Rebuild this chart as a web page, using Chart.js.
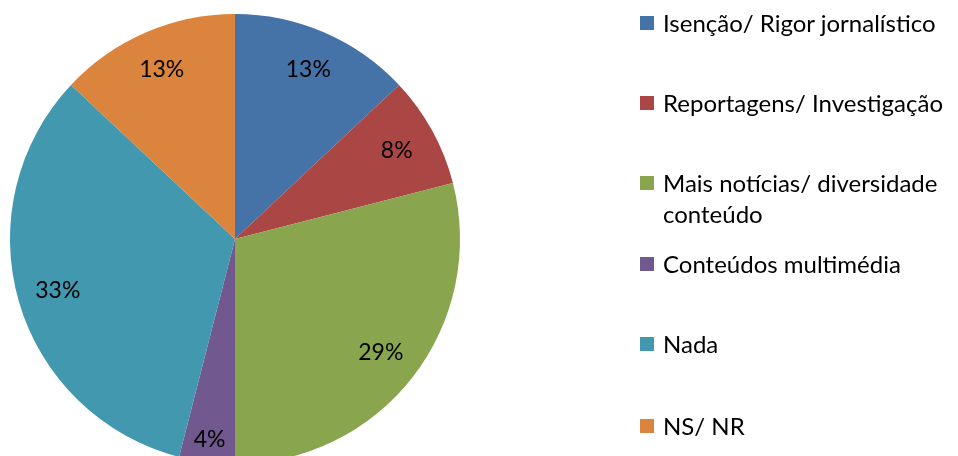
<!DOCTYPE html>
<html>
<head>
<meta charset="utf-8">
<script src="https://cdn.jsdelivr.net/npm/chart.js@4/dist/chart.umd.min.js"></script>
<style>
  html, body { margin: 0; padding: 0; background: #fff; overflow: hidden; }
  #wrap { position: relative; width: 958px; height: 470px; }
  #legend { position: absolute; left: 640px; top: 0; font-family: Lato, sans-serif; font-size: 24px; color: #000; }
  .item { position: absolute; left: 0; width: 318px; }
  .box { position: absolute; left: 0; width: 14px; height: 14px; }
  .txt { position: absolute; left: 23px; line-height: 31px; white-space: nowrap; }
</style>
</head>
<body>
<div id="wrap">
  <canvas id="myChart" width="958" height="470"></canvas>
  <div id="legend"></div>
</div>
<script>
'use strict';
let labels = ['Isenção/ Rigor jornalístico', 'Reportagens/ Investigação', ['Mais notícias/ diversidade', 'conteúdo'], 'Conteúdos multimédia', 'Nada', 'NS/ NR'];
let values = [13, 8, 29, 4, 33, 13];
let colors = ['#4572A7', '#AA4643', '#89A54E', '#71588F', '#4198AF', '#DB843D'];
let legendY = [22, 102, 182, 263, 343, 425];

let pctLabels = {
  id: 'pctLabels',
  afterDatasetsDraw(chart) {
    let ctx = chart.ctx;
    let meta = chart.getDatasetMeta(0);
    ctx.save();
    ctx.font = '23px Lato, sans-serif';
    ctx.fillStyle = '#000';
    ctx.textAlign = 'center';
    ctx.textBaseline = 'middle';
    meta.data.forEach(function (arc, i) {
      let mid = (arc.startAngle + arc.endAngle) / 2;
      let r = arc.outerRadius * 0.82;
      if (values[i] < 5) r = arc.outerRadius * 0.9;
      ctx.fillText(values[i] + '%', arc.x + Math.cos(mid) * r, arc.y + Math.sin(mid) * r);
    });
    ctx.restore();
  }
};

let ctx = document.getElementById('myChart').getContext('2d');
let myChart = new Chart(ctx, {
  type: 'pie',
  data: {
    labels: labels,
    datasets: [{
      data: values,
      backgroundColor: colors,
      borderWidth: 0
    }]
  },
  options: {
    responsive: false,
    animation: false,
    layout: { padding: { left: 10, top: 14, right: 498, bottom: 6 } },
    plugins: {
      legend: { display: false },
      tooltip: { enabled: false }
    }
  },
  plugins: [pctLabels]
});

let legendEl = document.getElementById('legend');
for (let i = 0; i < labels.length; i++) {
  let item = document.createElement('div');
  item.className = 'item';
  item.style.top = (legendY[i] - 15) + 'px';
  let box = document.createElement('div');
  box.className = 'box';
  box.style.background = colors[i];
  box.style.top = '9px';
  let txt = document.createElement('div');
  txt.className = 'txt';
  txt.innerHTML = Array.isArray(labels[i]) ? labels[i].join('<br>') : labels[i];
  item.appendChild(box);
  item.appendChild(txt);
  legendEl.appendChild(item);
}
</script>
</body>
</html>
